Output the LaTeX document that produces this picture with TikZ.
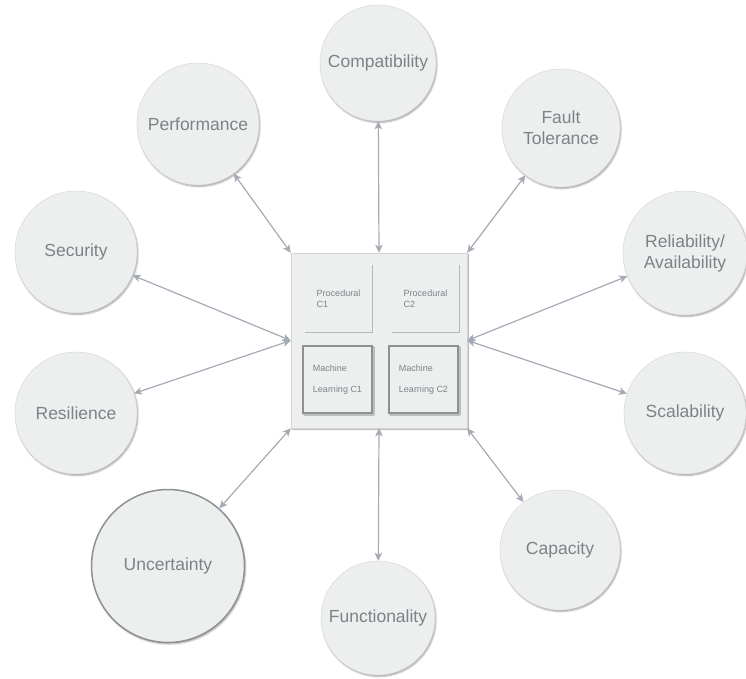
\documentclass[tikz,border=0pt]{standalone}
\usepackage{fontspec}
\setmainfont{Liberation Sans}
\usetikzlibrary{positioning, arrows.meta, shadows.blur}
\definecolor{nodeFill}{HTML}{EDEEEE}
\definecolor{nodeLine}{HTML}{D3D5D6}
\definecolor{nodeText}{HTML}{7E8288}
\definecolor{arrowGray}{HTML}{A5AAB6}
\definecolor{mlLine}{HTML}{8D9196}
\definecolor{procLine}{HTML}{B6B9BC}
\begin{document}
\begin{tikzpicture}[x=1pt, y=-1pt, X/.tip={Stealth[length=8pt, width=7.5pt, inset=2pt]},
    quality/.style={circle, draw=nodeLine, fill=nodeFill, minimum size=120pt, inner sep=0pt, align=center, text=nodeText,
        font=\fontsize{17.5}{21}\selectfont,
        blur shadow={shadow xshift=1pt, shadow yshift=-1.5pt, shadow blur radius=1.5pt, shadow opacity=35}},
    coreBox/.style={draw=nodeLine, fill=nodeFill, minimum width=176pt, minimum height=175pt, inner sep=0pt,
        blur shadow={shadow xshift=1.5pt, shadow yshift=-1.5pt, shadow blur radius=1pt, shadow opacity=40}},
    procBox/.style={minimum width=67pt, minimum height=67pt, inner sep=0pt, align=left, text=nodeText,
        font=\fontsize{9}{11}\selectfont},
    mlBox/.style={draw=mlLine, line width=1.6pt, fill=nodeFill, minimum width=69pt, minimum height=67pt, inner sep=0pt,
        align=left, text=nodeText, font=\fontsize{9}{11}\selectfont,
        blur shadow={shadow xshift=1.5pt, shadow yshift=-1.5pt, shadow blur radius=1pt, shadow opacity=30}},
    link/.style={X-X, draw=arrowGray, line width=1.2pt}]
    \useasboundingbox (0,0) rectangle (746,678);

    % components in the middle
    \node[coreBox] (core) at (379,340.5) {};
    \node[procBox] (proc1) at (338.5,298.5) {Procedural\\C1};
    \node[procBox] (proc2) at (425.5,298.5) {Procedural\\C2};
    \draw[procLine, line width=1.2pt] (proc1.north east) -- (proc1.south east) -- (proc1.south west);
    \draw[procLine, line width=1.2pt] (proc2.north east) -- (proc2.south east) -- (proc2.south west);
    \node[mlBox] (ml1) at (337.5,379.5) {Machine\\[10pt]Learning C1};
    \node[mlBox] (ml2) at (423.5,379.5) {Machine\\[10pt]Learning C2};

    % quality attributes round it
    \node[quality, minimum size=116pt] (compat) at (378,63) {Compatibility};
    \node[quality, minimum size=122pt] (perf) at (198,124) {Performance};
    \node[quality, minimum size=118pt] (fault) at (561,128) {Fault\\Tolerance};
    \node[quality, minimum size=122pt] (security) at (76,252) {Security};
    \node[quality, minimum size=124pt] (reliab) at (685,253) {Reliability/\\Availability};
    \node[quality, minimum size=122pt] (resil) at (76,413) {Resilience};
    \node[quality, minimum size=122pt] (scal) at (685,413) {Scalability};
    \node[quality, minimum size=120pt] (capac) at (560,550) {Capacity};
    \node[quality, minimum size=114pt] (func) at (378,618) {Functionality};
    \node[quality, minimum size=153pt, draw=mlLine, line width=1.5pt] (uncert) at (168,566) {Uncertainty};

    \draw[link] (perf) -- (core.north west);
    \draw[link] (compat) -- (core.north);
    \draw[link] (fault) -- (core.north east);
    \draw[link] (security) -- (core.west);
    \draw[link] (resil) -- (core.west);
    \draw[link] (reliab) -- (core.east);
    \draw[link] (scal) -- (core.east);
    \draw[link] (uncert) -- (core.south west);
    \draw[link] (func) -- (core.south);
    \draw[link] (capac) -- (core.south east);
\end{tikzpicture}
\end{document}
